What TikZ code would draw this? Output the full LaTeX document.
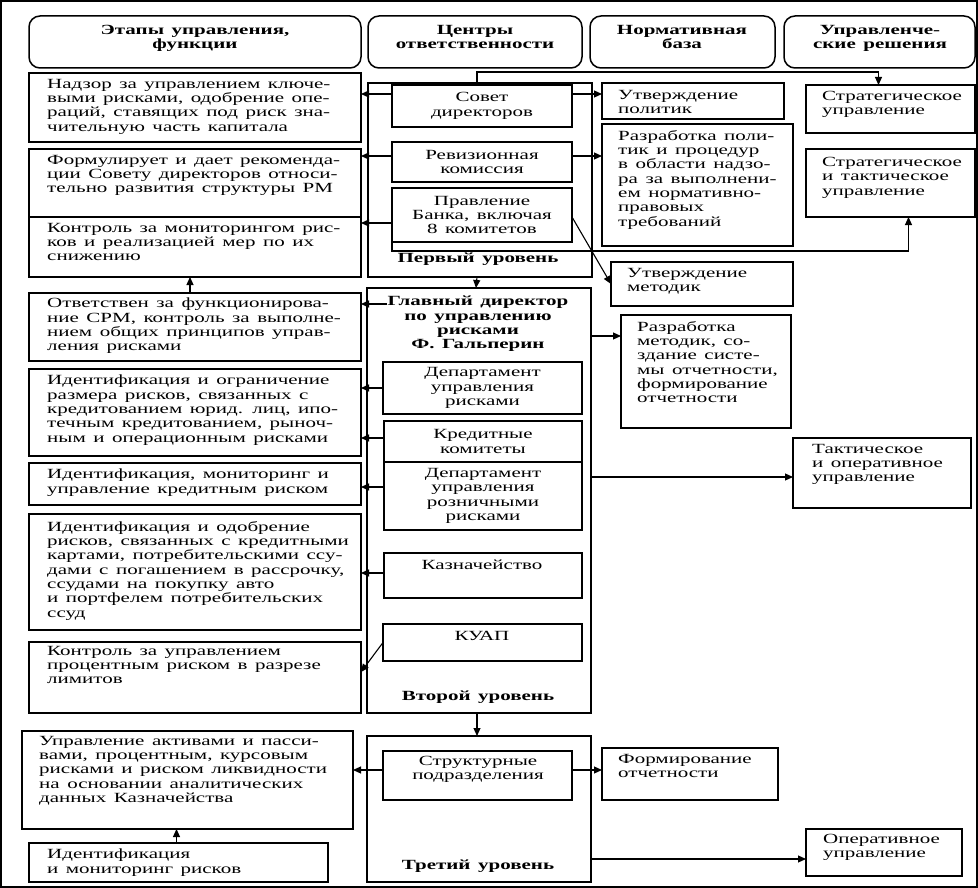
\documentclass[tikz,border=0pt]{standalone}
\usepackage{fontspec}
\setmainfont{Liberation Serif}[FakeStretch=1.5]
\usetikzlibrary{arrows.meta}
\newcommand\bodyf{\fontsize{14}{14.3}\selectfont\spaceskip=7.5pt plus 1pt\relax}
\newcommand\mkbox[6]{\node[bx,#6,anchor=north west,minimum width={#4-#2},minimum height={#5-#3}] (#1) at (#2,#3) {};}
\newcommand\mktext[4]{\node[txt] (#1-t) at ([shift={(#2,#3)}]#1.north west) {#4};}
\begin{document}
\begin{tikzpicture}[x=1pt,y=-1pt,
  bx/.style={draw,line width=1.5pt,inner sep=0pt,outer sep=0pt},
  hd/.style={rounded corners=11pt},
  txt/.style={inner sep=0pt,align=left,anchor=north west,font=\bodyf,execute at begin node=\strut},
  ctxt/.style={inner sep=0pt,align=center,font=\bodyf},
  btxt/.style={inner sep=0pt,align=center,font=\bodyf\bfseries,execute at begin node=\strut,anchor=north},
  arr/.style={line width=1.1pt,-{Triangle[length=8pt,width=7pt]}},
  ln/.style={line width=1.1pt}]
\useasboundingbox (0,0) rectangle (978,888);
\draw[line width=2.4pt] (1.2,1.2) rectangle (976.8,886.8);
% headers
\mkbox{h1}{29}{16}{361}{68}{hd}
\mkbox{h2}{368}{16}{582}{68}{hd}
\mkbox{h3}{590}{16}{775}{68}{hd}
\mkbox{h4}{784}{16}{975}{68}{hd}
\node[btxt] (h1-t) at (195,25) {Этапы управления,\\функции};
\node[btxt] (h2-t) at (475,25) {Центры\\ответственности};
\node[btxt] (h3-t) at (682,25) {Нормативная\\база};
\node[btxt] (h4-t) at (880,25) {Управленче-\\ские решения};
% left column
\mkbox{L1}{29}{73}{361}{142}{}
\mktext{L1}{18}{6}{Надзор за управлением ключе-\\выми рисками, одобрение опе-\\раций, ставящих под риск зна-\\чительную часть капитала}
\mkbox{L2}{29}{149}{361}{217}{}
\mktext{L2}{18}{6}{Формулирует и дает рекоменда-\\ции Совету директоров относи-\\тельно развития структуры РМ}
\mkbox{L3}{29}{217}{361}{277}{}
\mktext{L3}{18}{6}{Контроль за мониторингом рис-\\ков и реализацией мер по их\\снижению}
\mkbox{L4}{29}{293}{361}{361}{}
\mktext{L4}{18}{5}{Ответствен за функционирова-\\ние СРМ, контроль за выполне-\\нием общих принципов управ-\\ления рисками}
\mkbox{L5}{29}{369}{361}{456}{}
\mktext{L5}{18}{6}{Идентификация и ограничение\\размера рисков, связанных с\\кредитованием юрид. лиц, ипо-\\течным кредитованием, рыноч-\\ным и операционным рисками}
\mkbox{L6}{29}{463}{361}{505}{}
\mktext{L6}{18}{6}{Идентификация, мониторинг и\\управление кредитным риском}
\mkbox{L7}{29}{514}{361}{630}{}
\mktext{L7}{18}{7}{Идентификация и одобрение\\рисков, связанных с кредитными\\картами, потребительскими ссу-\\дами с погашением в рассрочку,\\ссудами на покупку авто\\и портфелем потребительских\\ссуд}
\mkbox{L8}{29}{642}{361}{713}{}
\mktext{L8}{18}{4}{Контроль за управлением\\процентным риском в разрезе\\лимитов}
\mkbox{L9}{22}{731}{353}{829}{}
\mktext{L9}{17}{5}{Управление активами и пасси-\\вами, процентным, курсовым\\рисками и риском ликвидности\\на основании аналитических\\данных Казначейства}
\mkbox{L10}{29}{843}{328}{882}{}
\mktext{L10}{18}{6}{Идентификация\\и мониторинг рисков}
% middle: first level
\mkbox{lvl1}{368}{83}{592}{277}{}
\mkbox{sovet}{392}{85}{572}{127}{}
\node[ctxt] (sovet-t) at (sovet.center) {Совет\\директоров};
\mkbox{revk}{392}{142}{572}{182}{}
\node[ctxt] (revk-t) at (revk.center) {Ревизионная\\комиссия};
\mkbox{pravl}{392}{188}{572}{242}{}
\node[ctxt] (pravl-t) at (pravl.center) {Правление\\Банка, включая\\8 комитетов};
\node[btxt] (lvl1-t) at (478,252) {Первый уровень};
% second level
\mkbox{lvl2}{367}{288}{591}{713}{}
\node[btxt] (gd) at (478,296) {Главный директор\\по управлению\\рисками\\Ф. Гальперин};
\mkbox{D1}{383}{362}{582}{414}{}
\node[ctxt] (D1-t) at (D1.center) {Департамент\\управления\\рисками};
\mkbox{D2}{384}{421}{582}{462}{}
\node[ctxt] (D2-t) at (D2.center) {Кредитные\\комитеты};
\mkbox{D3}{384}{462}{582}{530}{}
\node[ctxt] (D3-t) at (D3.center) {Департамент\\управления\\розничными\\рисками};
\mkbox{D4}{384}{553}{582}{598}{}
\node[ctxt,anchor=north,execute at begin node=\strut] (D4-t) at (482,559) {Казначейство};
\mkbox{D5}{383}{624}{582}{661}{}
\node[ctxt,anchor=north,execute at begin node=\strut] (D5-t) at (482,630) {КУАП};
\node[btxt] (lvl2-t) at (478,690) {Второй уровень};
% third level
\mkbox{lvl3}{367}{736}{591}{882}{}
\mkbox{S}{383}{751}{572}{800}{}
\node[ctxt,anchor=north,execute at begin node=\strut] (S-t) at (478,756) {Структурные\\подразделения};
\node[btxt] (lvl3-t) at (478,859) {Третий уровень};
% normative base
\mkbox{N1}{602}{83}{784}{119}{}
\mktext{N1}{16}{7}{Утверждение\\политик}
\mkbox{N2}{602}{124}{793}{246}{}
\mktext{N2}{16}{6}{Разработка поли-\\тик и процедур\\в области надзо-\\ра за выполнени-\\ем нормативно-\\правовых\\требований}
\mkbox{N3}{611}{262}{793}{306}{}
\mktext{N3}{16}{6}{Утверждение\\методик}
\mkbox{N4}{621}{315}{791}{428}{}
\mktext{N4}{16}{6}{Разработка\\методик, со-\\здание систе-\\мы отчетности,\\формирование\\отчетности}
\mkbox{N5}{602}{748}{778}{800}{}
\mktext{N5}{16}{6}{Формирование\\отчетности}
% decisions
\mkbox{R1}{806}{85}{975}{133}{}
\mktext{R1}{16}{6}{Стратегическое\\управление}
\mkbox{R2}{806}{149}{975}{217}{}
\mktext{R2}{16}{8}{Стратегическое\\и тактическое\\управление}
\mkbox{R3}{793}{438}{971}{508}{}
\mktext{R3}{19}{6}{Тактическое\\и оперативное\\управление}
\mkbox{R4}{806}{829}{962}{876}{}
\mktext{R4}{17}{5}{Оперативное\\управление}
% connectors
\draw[arr] ([xshift=-3pt]lvl1.north) -- ++(0,-11) -| ([xshift=-12pt]R1.north);
\draw[arr] (sovet.west |- 0,94) -- (L1.east |- 0,94);
\draw[arr] (revk.west |- 0,156) -- (L2.east |- 0,156);
\draw[arr] (pravl.west |- 0,223) -- (L3.east |- 0,223);
\draw[arr] (sovet.east |- 0,94) -- (N1.west |- 0,94);
\draw[arr] (revk.east |- 0,156) -- (N2.west |- 0,156);
\draw[arr] (pravl.east |- 0,217) -- (N3.west);
\draw[arr] (pravl.south west) -- (pravl.south west |- 0,251) -| ([xshift=18pt]R2.south);
\draw[arr] ([xshift=-3pt]lvl1.south) -- ([xshift=-3pt]lvl2.north);
\draw[arr] ([xshift=-5pt]L4.north) -- ([xshift=-5pt]L3.south);
\draw[arr] (gd.west |- 0,304) -- (L4.east |- 0,304);
\draw[arr] (lvl2.east |- 0,336) -- (N4.west |- 0,336);
\draw[arr] (D1.west |- 0,388) -- (L5.east |- 0,388);
\draw[arr] (D2.west |- 0,438) -- (L5.east |- 0,438);
\draw[arr] (D3.west |- 0,487) -- (L6.east |- 0,487);
\draw[arr] (D4.west |- 0,573) -- (L7.east |- 0,573);
\draw[arr] (D5.west) -- (L8.east |- 0,672);
\draw[arr] (lvl2.east |- 0,477) -- (R3.west |- 0,477);
\draw[arr] ([xshift=-2pt]lvl2.south) -- ([xshift=-2pt]lvl3.north);
\draw[arr] (S.west |- 0,770) -- (L9.east |- 0,770);
\draw[arr] (S.east |- 0,770) -- (N5.west |- 0,770);
\draw[arr] (lvl3.east |- 0,859) -- (R4.west |- 0,859);
\draw[arr] ([xshift=-2pt]L10.north) -- ([xshift=-2pt]L10.north |- L9.south);
\end{tikzpicture}
\end{document}
